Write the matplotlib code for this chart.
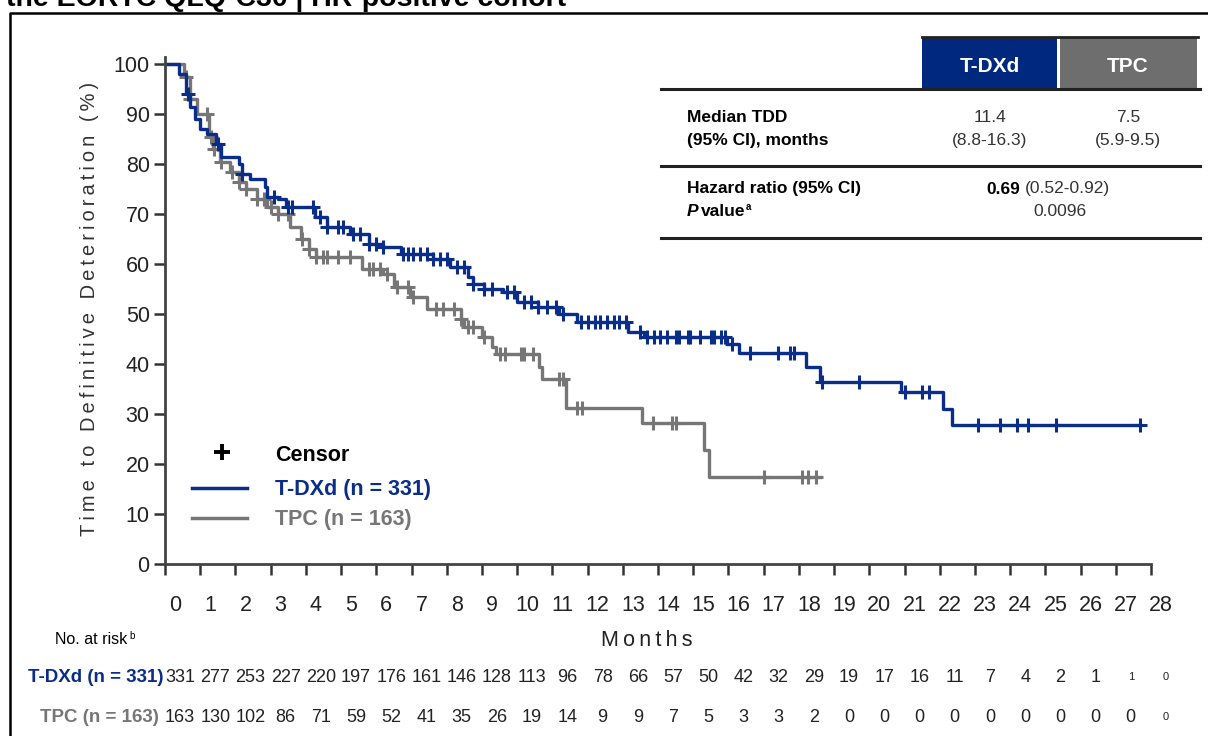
import numpy as np
import matplotlib
matplotlib.use("Agg")
import matplotlib.pyplot as plt
from matplotlib.lines import Line2D
from matplotlib.patches import Rectangle
from matplotlib.transforms import ScaledTranslation

plt.rcParams['font.family'] = ['Liberation Sans', 'DejaVu Sans']

# Kaplan-Meier steps (months, % after the step)
tdxd_t = [0, 0.4, 0.6, 0.7, 0.85, 1.0, 1.2, 1.45, 1.6, 2.1, 2.2, 2.4, 2.85, 2.9, 3.2, 3.45,
          4.25, 4.6, 5.25, 5.8, 6.2, 6.7, 7.6, 8.1, 8.6, 8.75, 9.05, 9.6, 10.0, 10.6, 11.2,
          11.7, 13.15, 13.6, 15.95, 16.3, 18.2, 18.6, 20.9, 22.1, 22.35, 27.7]
tdxd_s = [100, 98, 94, 91.5, 89, 87, 86, 84, 81.5, 80, 78, 77, 75.5, 73.5, 73, 71.5,
          69.5, 67.5, 66, 64, 63.5, 62, 61, 59.5, 57.5, 56, 55, 54.5, 52.5, 51.5, 50,
          48.5, 46.5, 45.5, 44, 42.3, 39.5, 36.5, 34.5, 31, 27.8, 27.8]
tdxd_cens = [0.65, 1.5, 2.2, 3.1, 3.5, 3.6, 4.2, 4.4, 4.6, 4.9, 5.05, 5.35, 5.55, 5.8, 6.0,
             6.2, 6.75, 6.9, 7.05, 7.25, 7.45, 7.6, 7.8, 8.0, 8.3, 8.5, 8.75, 9.05, 9.3, 9.7,
             9.9, 10.2, 10.4, 10.6, 10.85, 11.1, 11.3, 11.8, 12.0, 12.2, 12.35, 12.55, 12.75,
             12.9, 13.1, 13.5, 13.7, 13.9, 14.05, 14.25, 14.5, 14.6, 14.85, 14.9, 15.2, 15.5,
             15.6, 15.8, 15.9, 16.1, 16.6, 17.4, 17.75, 17.85, 18.65, 19.7, 21.0, 21.5, 21.7,
             23.1, 23.7, 24.2, 24.5, 25.3, 27.7]

tpc_t = [0, 0.55, 0.7, 0.9, 1.25, 1.35, 1.55, 1.85, 2.1, 2.3, 2.6, 2.9, 3.2, 3.55, 3.85,
         4.1, 4.3, 5.6, 6.2, 6.5, 6.95, 7.45, 8.4, 8.5, 9.0, 9.3, 9.4, 10.62, 10.7, 11.38,
         13.55, 15.3, 15.45, 18.6]
tpc_s = [100, 97.5, 93, 90, 85.5, 83, 80.5, 78.5, 76.5, 75, 73, 71.5, 70, 67.5, 65,
         63, 61.5, 59, 58, 55.5, 53.5, 51, 49, 47.5, 45.5, 43.5, 42, 39.5, 37, 31.3,
         28.3, 22.8, 17.4, 17.4]
tpc_cens = [0.6, 0.7, 1.2, 1.3, 1.4, 1.6, 1.9, 2.1, 2.3, 2.6, 2.8, 3.0, 3.2, 3.5, 3.9, 4.1,
            4.3, 4.5, 4.6, 4.9, 5.25, 5.8, 5.9, 6.1, 6.3, 6.6, 6.9, 7.05, 7.7, 7.9, 8.2, 8.4,
            8.6, 8.75, 9.05, 9.5, 9.65, 10.1, 10.2, 10.45, 11.2, 11.3, 11.7, 11.85, 13.85,
            14.4, 14.5, 17.0, 18.1, 18.25, 18.5]

months = list(range(0, 29))
risk_tdxd = [331, 277, 253, 227, 220, 197, 176, 161, 146, 128, 113, 96, 78, 66, 57, 50, 42,
             32, 29, 19, 17, 16, 11, 7, 4, 2, 1, 1, 0]
risk_tpc = [163, 130, 102, 86, 71, 59, 52, 41, 35, 26, 19, 14, 9, 9, 7, 5, 3, 3, 2, 0, 0, 0,
            0, 0, 0, 0, 0, 0, 0]

BLUE = '#0B2D8A'
GRAY = '#767676'
W, H = 1208, 736
THIN = '\u2009'


def fx(x):
    return x / W


def fy(y):
    return 1 - y / H


def spaced(s):
    # the slide uses loose letter spacing on the axis titles
    return THIN.join(s)


def step_value(times, surv, c):
    i = np.searchsorted(times, c, side='right') - 1
    return surv[i]


fig = plt.figure(figsize=(W / 100, H / 100), dpi=100)

# axes: x 0..28 spans px 165..1151, y 0..101.5 spans px 564..57
ax = fig.add_axes([fx(165), fy(564), (1151 - 165) / W, (564 - 57) / H])
ax.set_xlim(0, 28)
ax.set_ylim(0, 101.5)

for t, s, cens, col in [(tpc_t, tpc_s, tpc_cens, GRAY), (tdxd_t, tdxd_s, tdxd_cens, BLUE)]:
    ax.step(t, s, where='post', color=col, lw=2.4, clip_on=False)
    cy = [step_value(t, s, c) for c in cens]
    ax.plot(cens, cy, ls='none', marker='+', ms=10, mew=2.2, color=col, clip_on=False)

for side in ['top', 'right']:
    ax.spines[side].set_visible(False)
for side in ['left', 'bottom']:
    ax.spines[side].set_color('#444444')
    ax.spines[side].set_linewidth(2)
ax.spines['left'].set_bounds(0, 101.5)

ax.set_xticks(months)
ax.set_yticks(range(0, 101, 10))
ax.tick_params(axis='both', direction='out', length=8, width=1.8, color='#333333',
               labelsize=15.5, labelcolor='#222222')
ax.tick_params(axis='x', pad=14)
ax.tick_params(axis='y', pad=3)
for lbl in ax.get_xticklabels():
    lbl.set_transform(lbl.get_transform() + ScaledTranslation(0.1, 0, fig.dpi_scale_trans))

ax.set_ylabel(spaced('Time to Definitive Deterioration (%)'), fontsize=14.5, color='#333333')
ax.yaxis.set_label_coords((99 - 165) / 986, (564 - 309) / 507)
ax.set_xlabel(spaced('Months'), fontsize=15.5, color='#222222')
ax.xaxis.set_label_coords((647 - 165) / 986, (564 - 630) / 507)

# legend
fig.add_artist(Line2D([fx(222)], [fy(452)], marker='+', ms=12, mew=2.8, color='black'))
fig.text(fx(275), fy(455), 'Censor', fontsize=15.5, fontweight='bold', va='center')
fig.add_artist(Line2D([fx(192), fx(247)], [fy(488), fy(488)], color=BLUE, lw=2.5))
fig.text(fx(275), fy(489), 'T-DXd (n = 331)', fontsize=15.5, fontweight='bold', color=BLUE,
         va='center')
fig.add_artist(Line2D([fx(192), fx(247)], [fy(518), fy(518)], color=GRAY, lw=2.5))
fig.text(fx(275), fy(520), 'TPC (n = 163)', fontsize=15.5, fontweight='bold', color=GRAY,
         va='center')

# summary table
fig.add_artist(Rectangle((fx(922), fy(88)), (1057 - 922) / W, (88 - 37) / H,
                         color='#00287F', lw=0))
fig.add_artist(Rectangle((fx(1060), fy(88)), (1197 - 1060) / W, (88 - 37) / H,
                         color='#6E6E6E', lw=0))
fig.text(fx(990), fy(66), 'T-DXd', fontsize=15, fontweight='bold', color='white',
         ha='center', va='center')
fig.text(fx(1128), fy(66), 'TPC', fontsize=15, fontweight='bold', color='white',
         ha='center', va='center')
fig.add_artist(Line2D([fx(922), fx(1198)], [fy(37), fy(37)], color='#222222', lw=2))
for yy in [89, 166, 238]:
    fig.add_artist(Line2D([fx(661), fx(1200)], [fy(yy), fy(yy)], color='#222222', lw=2.2))

tsz = 12.5
fig.text(fx(687), fy(117), 'Median TDD', fontsize=tsz, fontweight='bold', va='center')
fig.text(fx(687), fy(140), '(95% CI), months', fontsize=tsz, fontweight='bold', va='center')
fig.text(fx(990), fy(117), '11.4', fontsize=tsz, color='#333333', ha='center', va='center')
fig.text(fx(990), fy(140), '(8.8-16.3)', fontsize=tsz, color='#333333', ha='center',
         va='center')
fig.text(fx(1128), fy(117), '7.5', fontsize=tsz, color='#333333', ha='center', va='center')
fig.text(fx(1128), fy(140), '(5.9-9.5)', fontsize=tsz, color='#333333', ha='center',
         va='center')
fig.text(fx(687), fy(189), 'Hazard ratio (95% CI)', fontsize=tsz, fontweight='bold',
         va='center')
fig.text(fx(687), fy(212), 'P', fontsize=tsz, fontweight='bold', fontstyle='italic',
         va='center')
fig.text(fx(701), fy(212), 'value', fontsize=tsz, fontweight='bold', va='center')
fig.text(fx(746), fy(207), 'a', fontsize=7, fontweight='bold', va='center')
fig.text(fx(1020), fy(189), '0.69', fontsize=tsz, fontweight='bold', ha='right', va='center')
fig.text(fx(1025), fy(189), '(0.52-0.92)', fontsize=tsz, color='#333333', va='center')
fig.text(fx(1060), fy(212), '0.0096', fontsize=tsz, color='#333333', ha='center',
         va='center')

# number at risk
fig.text(fx(55), fy(640), 'No. at risk', fontsize=11.5, va='center')
fig.text(fx(129), fy(636), 'b', fontsize=7, va='center')
fig.text(fx(163), fy(677), 'T-DXd (n = 331)', fontsize=13.5, fontweight='bold', color=BLUE,
         ha='right', va='center')
fig.text(fx(159), fy(717), 'TPC (n = 163)', fontsize=13.5, fontweight='bold', color=GRAY,
         ha='right', va='center')
row_off = ScaledTranslation(0.15, 0, fig.dpi_scale_trans)
for m, a, b in zip(months, risk_tdxd, risk_tpc):
    sz1 = 8 if m >= 27 else 13
    sz2 = 8 if m >= 28 else 13
    ax.text(m, 0, str(a), fontsize=sz1, color='#222222', ha='center', va='center',
            transform=ax.get_xaxis_transform() + row_off
            + ScaledTranslation(0, -113 / 100, fig.dpi_scale_trans), clip_on=False)
    ax.text(m, 0, str(b), fontsize=sz2, color='#222222', ha='center', va='center',
            transform=ax.get_xaxis_transform() + row_off
            + ScaledTranslation(0, -153 / 100, fig.dpi_scale_trans), clip_on=False)

# slide frame and clipped heading
fig.add_artist(Line2D([fx(10), fx(10), fx(1208)], [fy(736), fy(13), fy(13)], color='black',
                      lw=1.8))
fig.text(fx(6), fy(6), 'the EORTC QLQ-C30 | HR-positive cohort', fontsize=20.5,
         fontweight='bold', va='baseline')

fig.savefig('out.png', dpi=100)
